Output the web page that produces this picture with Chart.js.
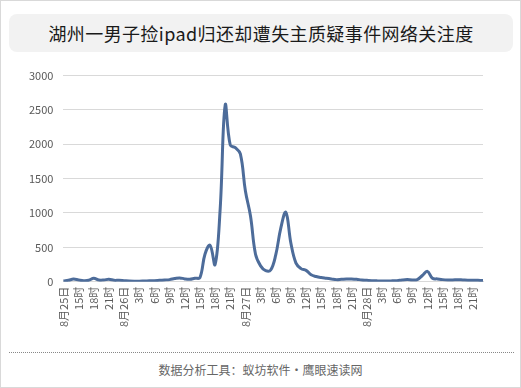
<!DOCTYPE html>
<html>
<head>
<meta charset="utf-8">
<script src="https://cdn.jsdelivr.net/npm/chart.js@4/dist/chart.umd.min.js"></script>
<style>
  html, body { margin: 0; padding: 0; background: #fff; }
  body { width: 521px; height: 388px; position: relative; box-sizing: border-box; border: 1px solid #d9d9d9; overflow: hidden; font-family: "Noto Sans CJK SC", "Noto Sans", sans-serif; }
  #title { position: absolute; left: 8px; top: 13px; width: 504px; height: 38px; line-height: 38px; background: #f2f2f2; border-radius: 8px; text-align: center; font-size: 18px; letter-spacing: 0.4px; color: #1a1a1a; }
  #chart-wrap { position: absolute; left: 0; top: 58px; width: 519px; height: 286px; }
  #rule { position: absolute; left: 8px; top: 351px; width: 505px; border-top: 1px dotted #888; }
  #footer { position: absolute; left: 0; top: 360px; width: 519px; text-align: center; font-size: 12px; color: #666; }
</style>
</head>
<body>
<div id="title">湖州一男子捡ipad归还却遭失主质疑事件网络关注度</div>
<div id="chart-wrap"><canvas id="attention"></canvas></div>
<div id="rule"></div>
<div id="footer">数据分析工具：蚁坊软件·鹰眼速读网</div>
<script>
// hourly categories, 8月25日 12时 -> 8月28日 23时
const hours = [
  '8月25日', '13时', '14时', '15时', '16时', '17时', '18时', '19时', '20时', '21时', '22时', '23时',
  '8月26日', '1时', '2时', '3时', '4时', '5时', '6时', '7时', '8时', '9时', '10时', '11时',
  '12时', '13时', '14时', '15时', '16时', '17时', '18时', '19时', '20时', '21时', '22时', '23时',
  '8月27日', '1时', '2时', '3时', '4时', '5时', '6时', '7时', '8时', '9时', '10时', '11时',
  '12时', '13时', '14时', '15时', '16时', '17时', '18时', '19时', '20时', '21时', '22时', '23时',
  '8月28日', '1时', '2时', '3时', '4时', '5时', '6时', '7时', '8时', '9时', '10时', '11时',
  '12时', '13时', '14时', '15时', '16时', '17时', '18时', '19时', '20时', '21时', '22时', '23时'
];

const attention = [
  10, 20, 38, 25, 15, 20, 50, 25, 25, 35, 20, 20,
  15, 10, 8, 8, 10, 12, 15, 20, 25, 30, 45, 55,
  40, 35, 50, 60, 400, 530, 250, 1050, 2570, 1990, 1950, 1860,
  1320, 960, 400, 230, 160, 170, 390, 780, 1010, 560, 270, 190,
  165, 100, 75, 60, 50, 40, 30, 35, 40, 40, 35, 25,
  20, 15, 12, 10, 10, 12, 15, 25, 30, 25, 30, 90,
  150, 50, 40, 30, 25, 25, 28, 25, 22, 22, 20, 18
];

const yTicks = [0, 500, 1000, 1500, 2000, 2500, 3000];

const ctx = document.getElementById('attention').getContext('2d');
const chart = new Chart(ctx, {
    type: 'line',
    data: {
        labels: hours,
        datasets: [{
            label: '关注度',
            data: attention,
            borderColor: '#4d6c9a',
            borderWidth: 3,
            pointRadius: 0,
            tension: 0.4,
            fill: false
        }]
    },
    options: {
        responsive: true,
        maintainAspectRatio: false,
        animation: false,
        layout: { padding: { left: 18, right: 37, top: 8, bottom: 13 } },
        scales: {
            x: {
                offset: false,
                grid: { display: false, drawTicks: false },
                border: { color: '#d9d9d9' },
                ticks: {
                    autoSkip: false,
                    maxRotation: 90,
                    minRotation: 90,
                    padding: 5,
                    color: '#595959',
                    font: { size: 11, family: '"Noto Sans CJK SC"' },
                    callback: (v, i) => (i % 3 === 0 ? hours[i] : null)
                }
            },
            y: {
                min: yTicks[0],
                max: yTicks[yTicks.length - 1],
                grid: { color: '#d9d9d9', drawTicks: false },
                border: { display: false },
                ticks: {
                    stepSize: 500,
                    padding: 10,
                    color: '#595959',
                    font: { size: 11, family: '"Noto Sans CJK SC"' },
                    callback: v => String(v)
                }
            }
        },
        plugins: { legend: { display: false }, tooltip: { enabled: false } }
    }
});
</script>
</body>
</html>
